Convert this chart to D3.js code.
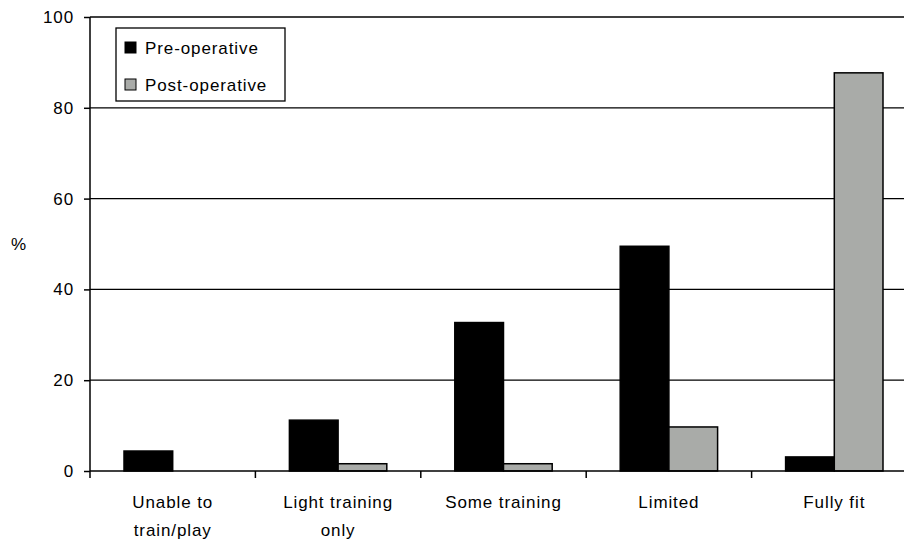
<!DOCTYPE html>
<html>
<head>
<meta charset="utf-8">
<script src="https://cdn.jsdelivr.net/npm/d3@7"></script>
<style>
  body { margin: 0; background: #fff; }
  svg text { font-family: "Liberation Sans", Arial, sans-serif; font-size: 17px; letter-spacing: 0.9px; fill: #000; }
</style>
</head>
<body>
<svg></svg>
<script>
var width = 904,
    height = 542

var categories = [["Unable to", "train/play"], ["Light training", "only"], ["Some training"], ["Limited"], ["Fully fit"]]
var seriesNames = ["Pre-operative", "Post-operative"]
var preOp = [4.4, 11.2, 32.7, 49.5, 3.1]
var postOp = [0, 1.6, 1.6, 9.7, 87.7]
var yTicks = [0, 20, 40, 60, 80, 100]
var colors = ["#000000", "#a9aba8"]

var margin = {left: 90, top: 17, right: -13, bottom: 70}

var svg = d3.select("svg").attr("width", width).attr("height", height)

var x = d3.scaleBand()
  .domain(d3.range(categories.length))
  .range([margin.left, width - margin.right])
  .padding(0)

var xs = d3.scaleBand()
  .domain(d3.range(seriesNames.length))
  .range([34, x.bandwidth() - 34])

var y = d3.scaleLinear()
  .domain([0, 100])
  .range([height - margin.bottom - 1, margin.top])

// gridlines
svg.append("g")
  .selectAll("line")
  .data(yTicks.filter(function(d) { return d > 0 }))
  .enter().append("line")
  .attr("x1", margin.left)
  .attr("x2", width)
  .attr("y1", function(d) { return y(d) })
  .attr("y2", function(d) { return y(d) })
  .attr("stroke", "#000")
  .attr("stroke-width", 1.3)

var data = categories.map(function(c, i) { return [preOp[i], postOp[i]] })

var group = svg.selectAll(".grp")
  .data(data)
  .enter().append("g")
  .attr("class", "grp")
  .attr("transform", function(d, i) { return "translate(" + x(i) + ",0)" })

group.selectAll("rect")
  .data(function(d) { return d })
  .enter().append("rect")
  .filter(function(d) { return d > 0 })
  .attr("x", function(d, j) { return xs(j) })
  .attr("width", xs.bandwidth())
  .attr("y", function(d) { return y(d) })
  .attr("height", function(d) { return y(0) - y(d) })
  .attr("fill", function(d, j) { return colors[j] })
  .attr("stroke", "#000")
  .attr("stroke-width", 1.5)

// y axis
var yAxis = svg.append("g")
  .attr("transform", "translate(" + margin.left + ",0)")
  .call(d3.axisLeft(y).tickValues(yTicks).tickSize(6).tickPadding(10))
yAxis.select(".domain").attr("stroke-width", 1.5).attr("d", "M0," + y(100) + "V" + y(0))
yAxis.selectAll(".tick line").attr("stroke-width", 1.5)
yAxis.selectAll("text").style("font-size", "17px").attr("font-family", null)

// x axis
var xAxis = svg.append("g")
  .attr("transform", "translate(0," + y(0) + ")")
xAxis.append("line")
  .attr("x1", margin.left).attr("x2", width)
  .attr("stroke", "#000").attr("stroke-width", 1.5)
xAxis.selectAll(".xt")
  .data(d3.range(categories.length + 1))
  .enter().append("line")
  .attr("x1", function(i) { return margin.left + i * x.bandwidth() })
  .attr("x2", function(i) { return margin.left + i * x.bandwidth() })
  .attr("y1", 0).attr("y2", 7)
  .attr("stroke", "#000").attr("stroke-width", 1.5)

var labels = xAxis.selectAll(".lab")
  .data(categories)
  .enter().append("text")
  .attr("text-anchor", "middle")
  .attr("transform", function(d, i) { return "translate(" + (x(i) + x.bandwidth() / 2) + ",37)" })
labels.selectAll("tspan")
  .data(function(d) { return d })
  .enter().append("tspan")
  .attr("x", 0)
  .attr("dy", function(d, k) { return k === 0 ? 0 : 28 })
  .text(function(d) { return d })

svg.append("text")
  .attr("x", 11).attr("y", 250)
  .text("%")

// legend
var legend = svg.append("g").attr("transform", "translate(116,28)")
legend.append("rect")
  .attr("width", 169).attr("height", 73)
  .attr("fill", "#fff").attr("stroke", "#000").attr("stroke-width", 1.3)
var item = legend.selectAll(".item")
  .data(seriesNames)
  .enter().append("g")
  .attr("transform", function(d, i) { return "translate(9," + (14 + i * 37) + ")" })
item.append("rect")
  .attr("width", 11).attr("height", 11)
  .attr("fill", function(d, i) { return colors[i] })
  .attr("stroke", "#000").attr("stroke-width", 1)
item.append("text")
  .attr("x", 20).attr("y", 12)
  .text(function(d) { return d })
</script>
</body>
</html>
